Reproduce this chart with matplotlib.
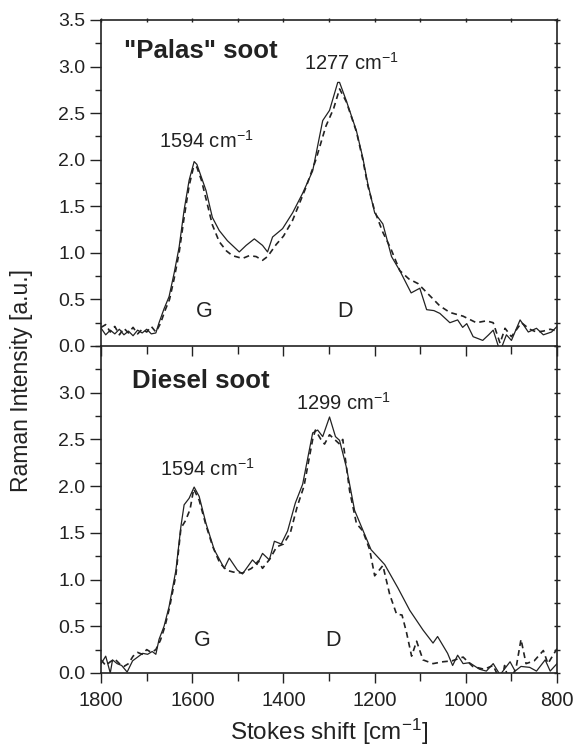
import numpy as np
import matplotlib
matplotlib.use('Agg')
import matplotlib.pyplot as plt
from matplotlib.ticker import MultipleLocator

plt.rcParams['font.family'] = ['Liberation Sans', 'DejaVu Sans']
plt.rcParams['mathtext.default'] = 'regular'

# "Palas" soot, solid and dashed spectra (wavenumber, intensity)
palas_solid_x = [1800, 1790, 1780, 1770, 1760, 1750, 1740, 1730, 1720, 1710, 1700, 1690, 1680,
                 1673, 1662, 1651, 1640, 1629, 1618, 1607, 1596, 1590, 1585, 1570, 1556, 1541,
                 1523, 1510, 1497, 1482, 1464, 1446, 1435, 1424, 1402, 1380, 1358, 1336, 1325,
                 1314, 1299, 1290, 1281, 1277, 1262, 1240, 1226, 1215, 1200, 1182, 1163, 1145,
                 1120, 1101, 1086, 1070, 1057, 1035, 1018, 1007, 998, 984, 963, 950, 940, 925,
                 911, 900, 881, 863, 845, 830, 812, 800]
palas_solid_y = [0.19, 0.12, 0.17, 0.13, 0.18, 0.12, 0.16, 0.11, 0.17, 0.14, 0.18, 0.13, 0.14,
                 0.25, 0.40, 0.53, 0.78, 1.06, 1.46, 1.78, 1.98, 1.95, 1.88, 1.67, 1.38, 1.24,
                 1.13, 1.07, 1.01, 1.08, 1.15, 1.08, 1.01, 1.17, 1.26, 1.43, 1.64, 1.88, 2.15,
                 2.42, 2.53, 2.68, 2.83, 2.83, 2.63, 2.31, 2.02, 1.74, 1.43, 1.31, 0.96, 0.81,
                 0.57, 0.62, 0.39, 0.38, 0.35, 0.25, 0.28, 0.20, 0.24, 0.10, 0.06, 0.12, 0.17, -0.06,
                 0.12, 0.06, 0.28, 0.15, 0.19, 0.12, 0.15, 0.21]

palas_dash_x = [1800, 1790, 1780, 1770, 1760, 1750, 1740, 1730, 1720, 1710, 1700, 1690, 1680,
                1670, 1660, 1650, 1640, 1629, 1618, 1607, 1597, 1590, 1580, 1570, 1556, 1541,
                1525, 1512, 1490, 1475, 1460, 1446, 1435, 1416, 1400, 1380, 1351, 1329, 1307,
                1290, 1277, 1262, 1240, 1226, 1215, 1200, 1182, 1165, 1145, 1125, 1105, 1079,
                1057, 1035, 1006, 977, 955, 940, 925, 914, 900, 878, 860, 845, 830, 815, 800]
palas_dash_y = [0.20, 0.23, 0.15, 0.21, 0.12, 0.19, 0.14, 0.20, 0.13, 0.18, 0.15, 0.21, 0.15,
                0.24, 0.38, 0.50, 0.72, 1.00, 1.38, 1.72, 1.93, 1.92, 1.78, 1.58, 1.30, 1.12,
                1.02, 0.97, 0.94, 0.97, 0.96, 0.92, 0.96, 1.09, 1.18, 1.35, 1.70, 2.00, 2.36,
                2.55, 2.76, 2.62, 2.30, 2.00, 1.72, 1.45, 1.22, 1.05, 0.81, 0.72, 0.67, 0.54,
                0.43, 0.36, 0.32, 0.25, 0.27, 0.25, 0.03, 0.19, 0.10, 0.25, 0.18, 0.15, 0.16, 0.18, 0.16]

# Diesel soot
diesel_solid_x = [1800, 1790, 1780, 1775, 1765, 1755, 1743, 1731, 1720, 1709, 1698, 1688, 1680,
                  1673, 1662, 1651, 1636, 1625, 1618, 1607, 1596, 1585, 1570, 1552, 1530, 1519,
                  1501, 1490, 1468, 1458, 1446, 1431, 1420, 1405, 1391, 1374, 1358, 1336, 1325,
                  1314, 1299, 1286, 1277, 1262, 1244, 1226, 1208, 1178, 1149, 1123, 1094, 1072,
                  1062, 1040, 1029, 1018, 1006, 992, 970, 955, 940, 925, 903, 892, 879, 860, 845,
                  826, 815, 800]
diesel_solid_y = [0.10, 0.18, 0.00, 0.14, 0.10, 0.08, 0.01, 0.13, 0.17, 0.21, 0.20, 0.23, 0.20,
                  0.36, 0.50, 0.71, 1.10, 1.57, 1.80, 1.87, 1.99, 1.89, 1.60, 1.32, 1.12, 1.23,
                  1.10, 1.06, 1.21, 1.16, 1.28, 1.21, 1.41, 1.38, 1.52, 1.82, 2.02, 2.57, 2.60,
                  2.53, 2.74, 2.53, 2.49, 2.20, 1.74, 1.53, 1.32, 1.16, 0.91, 0.67, 0.46, 0.32,
                  0.39, 0.21, 0.08, 0.19, 0.10, 0.11, 0.04, 0.02, 0.10, -0.02, 0.12, 0.02, 0.07,
                  0.06, 0.02, 0.14, 0.02, 0.10]

diesel_dash_x = [1800, 1790, 1780, 1770, 1760, 1750, 1740, 1730, 1720, 1710, 1700, 1690, 1680,
                 1670, 1660, 1650, 1636, 1625, 1615, 1605, 1597, 1585, 1570, 1555, 1540, 1525,
                 1510, 1490, 1470, 1455, 1446, 1430, 1415, 1400, 1385, 1370, 1355, 1336, 1330,
                 1318, 1310, 1299, 1288, 1277, 1270, 1255, 1240, 1226, 1211, 1200, 1182, 1167,
                 1152, 1140, 1130, 1119, 1108, 1094, 1072, 1050, 1030, 1006, 985, 960, 940, 922,
                 915, 905, 890, 879, 868, 850, 830, 820, 810, 800]
diesel_dash_y = [0.14, 0.08, 0.12, 0.15, 0.10, 0.07, 0.10, 0.18, 0.22, 0.20, 0.25, 0.22, 0.25,
                 0.35, 0.50, 0.70, 1.05, 1.55, 1.63, 1.75, 1.97, 1.85, 1.58, 1.35, 1.18, 1.10,
                 1.08, 1.07, 1.12, 1.20, 1.12, 1.22, 1.35, 1.38, 1.50, 1.78, 2.00, 2.50, 2.60,
                 2.50, 2.45, 2.55, 2.50, 2.45, 2.50, 1.95, 1.60, 1.52, 1.32, 1.04, 1.15, 0.84,
                 0.63, 0.62, 0.43, 0.18, 0.34, 0.14, 0.10, 0.12, 0.13, 0.17, 0.07, 0.04, 0.08, -0.11,
                 0.08, -0.10, 0.05, 0.36, 0.10, 0.13, 0.24, 0.10, 0.18, 0.26]

tc = '#222222'

fig = plt.figure(figsize=(5.78, 7.46), dpi=100)
ax1 = fig.add_axes([0.175, 0.5362, 0.7887, 0.4370])
ax2 = fig.add_axes([0.175, 0.0979, 0.7887, 0.4383])
ax2.patch.set_visible(False)

for ax, (sx, sy, dx, dy) in [(ax1, (palas_solid_x, palas_solid_y, palas_dash_x, palas_dash_y)),
                              (ax2, (diesel_solid_x, diesel_solid_y, diesel_dash_x, diesel_dash_y))]:
    ax.plot(sx, sy, '-', color=tc, lw=0.9)
    ax.plot(dx, dy, '--', color=tc, lw=1.2, dashes=(3.5, 2.5))
    ax.set_xlim(1800, 800)
    ax.set_ylim(0, 3.5)
    ax.xaxis.set_major_locator(MultipleLocator(200))
    ax.xaxis.set_minor_locator(MultipleLocator(100))
    ax.yaxis.set_major_locator(MultipleLocator(0.5))
    ax.yaxis.set_minor_locator(MultipleLocator(0.25))
    ax.tick_params(which='both', colors=tc, width=1)
    ax.tick_params(axis='y', labelsize=14)
    ax.tick_params(axis='x', labelsize=14.5, pad=6)
    ax.tick_params(axis='y', which='major', direction='out', length=8, left=True, right=False)
    ax.tick_params(axis='y', which='minor', direction='out', length=4, left=True, right=False)
    ax.tick_params(axis='x', which='major', direction='out', length=7, top=False)
    ax.tick_params(axis='x', which='minor', direction='out', length=6, top=False)
    for s in ax.spines.values():
        s.set_linewidth(1.2)
        s.set_color(tc)
    # small ticks on the right frame
    axr = ax.secondary_yaxis('right')
    axr.yaxis.set_major_locator(MultipleLocator(0.25))
    axr.tick_params(direction='inout', length=4, labelright=False, width=1, colors=tc)
    axr.spines['right'].set_visible(False)

axt = ax1.secondary_xaxis('top')
axt.xaxis.set_major_locator(MultipleLocator(100))
axt.tick_params(direction='inout', length=3, labeltop=False, width=1, colors=tc)
axt.spines['top'].set_visible(False)

ax1.tick_params(axis='x', labelbottom=False)
ax2.set_yticks([0, 0.5, 1.0, 1.5, 2.0, 2.5, 3.0])
ax2.spines['top'].set_visible(False)
ax2.set_xticks([1800, 1600, 1400, 1200, 1000, 800])
ax2.set_xticklabels(['1800', '1600', '1400', '1200', '1000', '800'])
ax1.set_yticklabels(['%.1f' % v for v in ax1.get_yticks()])
ax2.set_yticklabels(['%.1f' % v for v in ax2.get_yticks()])

ax2.set_xlabel('Stokes shift [cm$^{-1}$]', fontsize=17.5, color=tc, labelpad=5)
fig.text(0.038, 1 - 381 / 746, 'Raman Intensity [a.u.]', rotation=90, fontsize=16.5,
         color=tc, ha='center', va='center')

ax1.text(1749, 3.17, '"Palas" soot', fontsize=18.5, fontweight='bold', color=tc, va='center')
ax1.text(1570, 2.2, '1594 cm$^{-1}$', fontsize=14.5, color=tc, ha='center', va='center')
ax1.text(1251, 3.04, '1277 cm$^{-1}$', fontsize=14.5, color=tc, ha='center', va='center')
ax1.text(1574, 0.37, 'G', fontsize=15.5, color=tc, ha='center', va='center')
ax1.text(1264, 0.37, 'D', fontsize=15.5, color=tc, ha='center', va='center')

ax2.text(1732, 3.12, 'Diesel soot', fontsize=18.5, fontweight='bold', color=tc, va='center')
ax2.text(1568, 2.19, '1594 cm$^{-1}$', fontsize=14.5, color=tc, ha='center', va='center')
ax2.text(1268, 2.89, '1299 cm$^{-1}$', fontsize=14.5, color=tc, ha='center', va='center')
ax2.text(1578, 0.35, 'G', fontsize=15.5, color=tc, ha='center', va='center')
ax2.text(1292, 0.35, 'D', fontsize=15.5, color=tc, ha='center', va='center')

plt.savefig('out.png', dpi=100)
